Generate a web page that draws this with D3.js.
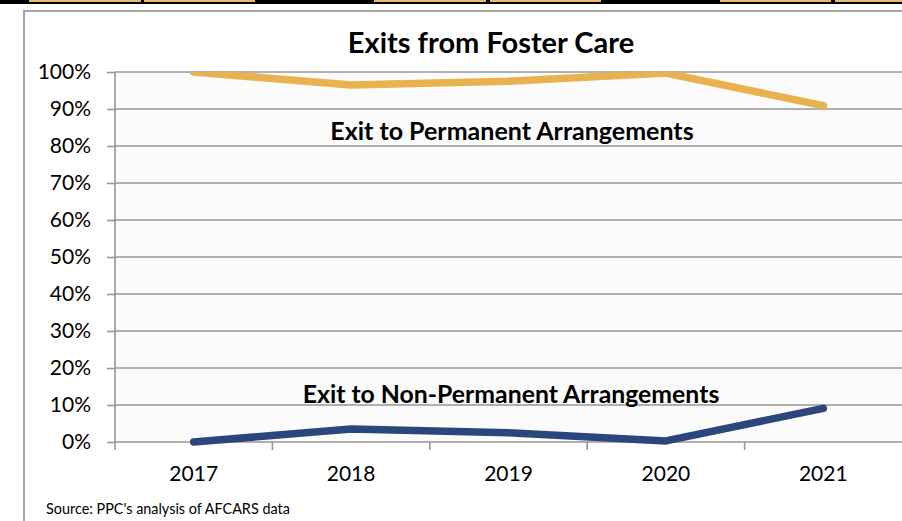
<!DOCTYPE html>
<html>
<head>
<meta charset="utf-8">
<script src="https://cdn.jsdelivr.net/npm/d3@7"></script>
<style>
html,body{margin:0;padding:0;background:#fff;}
svg{display:block;}
text{font-family:Lato,"Open Sans",sans-serif;fill:#000;}
</style>
</head>
<body>
<svg id="chart" width="902" height="521"></svg>
<script>
const years = ["2017", "2018", "2019", "2020", "2021"];
const permanent = [100, 96.5, 97.5, 99.7, 90.9];
const nonPermanent = [0.0, 3.5, 2.5, 0.3, 9.1];
const yTicks = [0, 10, 20, 30, 40, 50, 60, 70, 80, 90, 100];
const title = "Exits from Foster Care";
const seriesLabels = ["Exit to Permanent Arrangements", "Exit to Non-Permanent Arrangements"];
const source = "Source: PPC's analysis of AFCARS data";

const svg = d3.select("#chart");
const W = 902, H = 521;
const plot = {left: 115, right: 902, top: 72, bottom: 442};

// top strip artefact
svg.append("rect").attr("x", 0).attr("y", 0).attr("width", W).attr("height", 4).attr("fill", "#000");
[[29,141],[144,255],[374,486],[490,601],[720,831],[835,902]].forEach(s => {
  svg.append("rect").attr("x", s[0]).attr("y", 0).attr("width", s[1]-s[0]).attr("height", 2).attr("fill", "#e8b86e");
});

// outer frame
svg.append("rect").attr("x", 24).attr("y", 11).attr("width", W).attr("height", H)
  .attr("fill", "#fff").attr("stroke", "#a3a3a3").attr("stroke-width", 2);

const x = d3.scaleBand().domain(years).range([plot.left, plot.right]);
const y = d3.scaleLinear().domain([0, 100]).range([plot.bottom, plot.top]);

// plot background
svg.append("rect").attr("x", plot.left).attr("y", plot.top)
  .attr("width", plot.right - plot.left).attr("height", plot.bottom - plot.top).attr("fill", "#fbfbfb");

// gridlines
svg.append("g").selectAll("line").data(yTicks).join("line")
  .attr("x1", plot.left).attr("x2", plot.right)
  .attr("y1", d => y(d)).attr("y2", d => y(d))
  .attr("stroke", "#979797").attr("stroke-width", 1.6);

// y axis
const yAxis = d3.axisLeft(y).tickValues(yTicks).tickSize(8).tickPadding(16).tickFormat(d => d + "%");
const gy = svg.append("g").attr("transform", `translate(${plot.left},0)`).call(yAxis);
gy.select(".domain").attr("stroke", "#979797").attr("stroke-width", 1.6).attr("d", `M0,${plot.top}V${plot.bottom}`);
gy.selectAll(".tick line").attr("stroke", "#979797").attr("stroke-width", 1.6);
gy.selectAll(".tick text").style("font-family", "Lato").style("font-size", "21px").attr("fill", "#000");

// x axis
const xAxis = d3.axisBottom(x).tickSize(0).tickPadding(24);
const gx = svg.append("g").attr("transform", `translate(0,${plot.bottom})`).call(xAxis);
gx.select(".domain").remove();
gx.selectAll(".tick text").style("font-family", "Lato").style("font-size", "21px").attr("fill", "#000").attr("dy", "0.71em");
// x category boundary ticks
svg.append("g").selectAll("line").data(years).join("line")
  .attr("x1", d => x(d)).attr("x2", d => x(d))
  .attr("y1", plot.bottom).attr("y2", plot.bottom + 8)
  .attr("stroke", "#979797").attr("stroke-width", 1.6);

// clip
svg.append("clipPath").attr("id", "clip").append("rect")
  .attr("x", 0).attr("y", plot.top).attr("width", W).attr("height", H);

const line = d3.line().x((d, i) => x(years[i]) + x.bandwidth() / 2).y(d => y(d));
const lines = svg.append("g").attr("clip-path", "url(#clip)");
lines.append("path").attr("d", line(permanent)).attr("fill", "none")
  .attr("stroke", "#e9b24f").attr("stroke-width", 7.5).attr("stroke-linecap", "round").attr("stroke-linejoin", "round");
lines.append("path").attr("d", line(nonPermanent)).attr("fill", "none")
  .attr("stroke", "#2a477c").attr("stroke-width", 7.5).attr("stroke-linecap", "round").attr("stroke-linejoin", "round");

// title
svg.append("text").attr("x", 491).attr("y", 53).attr("text-anchor", "middle")
  .style("font-family", "Lato").style("font-weight", "bold").style("font-size", "29px").text(title);

// series labels
svg.append("text").attr("x", 512).attr("y", 140).attr("text-anchor", "middle")
  .style("font-family", "Lato").style("font-weight", "bold").style("font-size", "25px").text(seriesLabels[0]);
svg.append("text").attr("x", 511).attr("y", 403).attr("text-anchor", "middle")
  .style("font-family", "Lato").style("font-weight", "bold").style("font-size", "24.8px").text(seriesLabels[1]);

// source
svg.append("text").attr("x", 46).attr("y", 514)
  .style("font-family", "Lato").style("font-size", "14.4px").text(source);
</script>
</body>
</html>
